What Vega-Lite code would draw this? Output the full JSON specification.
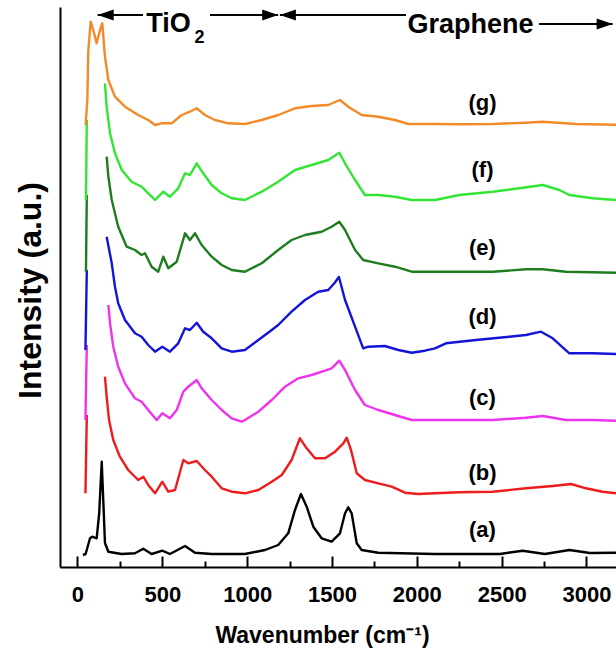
{
  "$schema": "https://vega.github.io/schema/vega-lite/v6.json",
  "width": 556,
  "height": 560,
  "autosize": "none",
  "padding": {"left": 60, "top": 7, "right": 0, "bottom": 86},
  "config": {"view": {"stroke": null}, "font": "Liberation Sans"},
  "datasets": {
    "spectra": [
      {"s":"a","g":1,"x":32,"y":12},{"s":"a","g":1,"x":48,"y":13},{"s":"a","g":1,"x":74,"y":28.7},{"s":"a","g":1,"x":87,"y":30.3},{"s":"a","g":1,"x":113,"y":28.7},{"s":"a","g":1,"x":128,"y":53.7},{"s":"a","g":1,"x":143,"y":105.3},{"s":"a","g":1,"x":152,"y":67},{"s":"a","g":1,"x":162,"y":24},{"s":"a","g":1,"x":182,"y":15.3},{"s":"a","g":1,"x":260,"y":13},{"s":"a","g":1,"x":339,"y":13.7},{"s":"a","g":1,"x":388,"y":18.3},{"s":"a","g":1,"x":437,"y":13},{"s":"a","g":1,"x":500,"y":16.3},{"s":"a","g":1,"x":545,"y":13},{"s":"a","g":1,"x":634,"y":21},{"s":"a","g":1,"x":693,"y":14.3},{"s":"a","g":1,"x":791,"y":13},{"s":"a","g":1,"x":987,"y":13},{"s":"a","g":1,"x":1105,"y":17},{"s":"a","g":1,"x":1183,"y":22},{"s":"a","g":1,"x":1242,"y":33.7},{"s":"a","g":1,"x":1282,"y":57},{"s":"a","g":1,"x":1317,"y":73},{"s":"a","g":1,"x":1351,"y":60.3},{"s":"a","g":1,"x":1390,"y":40.3},{"s":"a","g":1,"x":1439,"y":28.7},{"s":"a","g":1,"x":1498,"y":25.3},{"s":"a","g":1,"x":1547,"y":33.7},{"s":"a","g":1,"x":1577,"y":53.7},{"s":"a","g":1,"x":1596,"y":59.7},{"s":"a","g":1,"x":1616,"y":53.7},{"s":"a","g":1,"x":1646,"y":23.7},{"s":"a","g":1,"x":1675,"y":17},{"s":"a","g":1,"x":1773,"y":14.3},{"s":"a","g":1,"x":2107,"y":13},{"s":"a","g":1,"x":2490,"y":13},{"s":"a","g":1,"x":2624,"y":16.3},{"s":"a","g":1,"x":2755,"y":13},{"s":"a","g":1,"x":2899,"y":17},{"s":"a","g":1,"x":3021,"y":14},{"s":"a","g":1,"x":3174,"y":14.3},

      {"s":"b","g":1,"x":47,"y":73.7},{"s":"b","g":1,"x":55,"y":152},
      {"s":"b","g":2,"x":162,"y":190.3},{"s":"b","g":2,"x":172,"y":170.3},{"s":"b","g":2,"x":186,"y":147},{"s":"b","g":2,"x":211,"y":127},{"s":"b","g":2,"x":250,"y":110.3},{"s":"b","g":2,"x":299,"y":97},{"s":"b","g":2,"x":358,"y":87},{"s":"b","g":2,"x":388,"y":90.3},{"s":"b","g":2,"x":417,"y":82},{"s":"b","g":2,"x":457,"y":73.7},{"s":"b","g":2,"x":500,"y":85.3},{"s":"b","g":2,"x":535,"y":75.3},{"s":"b","g":2,"x":575,"y":77},{"s":"b","g":2,"x":624,"y":107},{"s":"b","g":2,"x":653,"y":103.7},{"s":"b","g":2,"x":703,"y":106},{"s":"b","g":2,"x":751,"y":97},{"s":"b","g":2,"x":791,"y":90.3},{"s":"b","g":2,"x":850,"y":78.7},{"s":"b","g":2,"x":909,"y":75.3},{"s":"b","g":2,"x":987,"y":73.7},{"s":"b","g":2,"x":1066,"y":77},{"s":"b","g":2,"x":1145,"y":85.3},{"s":"b","g":2,"x":1204,"y":92},{"s":"b","g":2,"x":1262,"y":107},{"s":"b","g":2,"x":1311,"y":128.7},{"s":"b","g":2,"x":1351,"y":118.7},{"s":"b","g":2,"x":1400,"y":108.7},{"s":"b","g":2,"x":1459,"y":108.7},{"s":"b","g":2,"x":1518,"y":115.3},{"s":"b","g":2,"x":1567,"y":123.7},{"s":"b","g":2,"x":1587,"y":129.3},{"s":"b","g":2,"x":1612,"y":117},{"s":"b","g":2,"x":1646,"y":93.7},{"s":"b","g":2,"x":1694,"y":87},{"s":"b","g":2,"x":1773,"y":83.7},{"s":"b","g":2,"x":1852,"y":80.3},{"s":"b","g":2,"x":1930,"y":74.3},{"s":"b","g":2,"x":2009,"y":73},{"s":"b","g":2,"x":2107,"y":73.7},{"s":"b","g":2,"x":2250,"y":74.7},{"s":"b","g":2,"x":2447,"y":75.3},{"s":"b","g":2,"x":2643,"y":78.7},{"s":"b","g":2,"x":2801,"y":81},{"s":"b","g":2,"x":2909,"y":83},{"s":"b","g":2,"x":2997,"y":78.7},{"s":"b","g":2,"x":3095,"y":75.3},{"s":"b","g":2,"x":3174,"y":73.7},

      {"s":"c","g":1,"x":47,"y":147},{"s":"c","g":1,"x":55,"y":222},
      {"s":"c","g":2,"x":182,"y":262},{"s":"c","g":2,"x":192,"y":243.7},{"s":"c","g":2,"x":211,"y":220.3},{"s":"c","g":2,"x":240,"y":200.3},{"s":"c","g":2,"x":280,"y":183.7},{"s":"c","g":2,"x":339,"y":168.7},{"s":"c","g":2,"x":378,"y":165.3},{"s":"c","g":2,"x":417,"y":157},{"s":"c","g":2,"x":467,"y":147},{"s":"c","g":2,"x":500,"y":153.7},{"s":"c","g":2,"x":545,"y":148.7},{"s":"c","g":2,"x":585,"y":157},{"s":"c","g":2,"x":624,"y":175.3},{"s":"c","g":2,"x":653,"y":180.3},{"s":"c","g":2,"x":703,"y":187},{"s":"c","g":2,"x":732,"y":178.7},{"s":"c","g":2,"x":791,"y":167},{"s":"c","g":2,"x":850,"y":157},{"s":"c","g":2,"x":909,"y":148.7},{"s":"c","g":2,"x":968,"y":145.3},{"s":"c","g":2,"x":987,"y":147},{"s":"c","g":2,"x":1066,"y":155.3},{"s":"c","g":2,"x":1145,"y":167},{"s":"c","g":2,"x":1223,"y":180.3},{"s":"c","g":2,"x":1301,"y":188.7},{"s":"c","g":2,"x":1380,"y":192},{"s":"c","g":2,"x":1459,"y":196.3},{"s":"c","g":2,"x":1498,"y":198.7},{"s":"c","g":2,"x":1543,"y":206.3},{"s":"c","g":2,"x":1577,"y":197},{"s":"c","g":2,"x":1636,"y":177},{"s":"c","g":2,"x":1694,"y":162},{"s":"c","g":2,"x":1773,"y":157},{"s":"c","g":2,"x":1871,"y":152},{"s":"c","g":2,"x":1970,"y":147},{"s":"c","g":2,"x":2107,"y":147},{"s":"c","g":2,"x":2250,"y":147},{"s":"c","g":2,"x":2447,"y":147},{"s":"c","g":2,"x":2643,"y":149.3},{"s":"c","g":2,"x":2742,"y":151},{"s":"c","g":2,"x":2879,"y":147},{"s":"c","g":2,"x":3036,"y":147},{"s":"c","g":2,"x":3174,"y":146.3},

      {"s":"d","g":1,"x":47,"y":217},{"s":"d","g":1,"x":55,"y":297},
      {"s":"d","g":2,"x":172,"y":330.3},{"s":"d","g":2,"x":202,"y":303.7},{"s":"d","g":2,"x":221,"y":280.3},{"s":"d","g":2,"x":240,"y":263.7},{"s":"d","g":2,"x":280,"y":247},{"s":"d","g":2,"x":339,"y":233.7},{"s":"d","g":2,"x":378,"y":230.3},{"s":"d","g":2,"x":417,"y":222},{"s":"d","g":2,"x":457,"y":215.3},{"s":"d","g":2,"x":500,"y":220.3},{"s":"d","g":2,"x":545,"y":215.3},{"s":"d","g":2,"x":594,"y":223.7},{"s":"d","g":2,"x":634,"y":238.7},{"s":"d","g":2,"x":663,"y":237},{"s":"d","g":2,"x":703,"y":244.3},{"s":"d","g":2,"x":741,"y":235.3},{"s":"d","g":2,"x":791,"y":228.7},{"s":"d","g":2,"x":850,"y":218.7},{"s":"d","g":2,"x":909,"y":215.3},{"s":"d","g":2,"x":987,"y":217},{"s":"d","g":2,"x":1066,"y":227},{"s":"d","g":2,"x":1145,"y":237},{"s":"d","g":2,"x":1183,"y":242},{"s":"d","g":2,"x":1262,"y":255.3},{"s":"d","g":2,"x":1341,"y":267},{"s":"d","g":2,"x":1419,"y":275.3},{"s":"d","g":2,"x":1478,"y":277},{"s":"d","g":2,"x":1514,"y":283.7},{"s":"d","g":2,"x":1541,"y":290},{"s":"d","g":2,"x":1577,"y":267},{"s":"d","g":2,"x":1636,"y":240.3},{"s":"d","g":2,"x":1684,"y":218.7},{"s":"d","g":2,"x":1714,"y":220.3},{"s":"d","g":2,"x":1812,"y":221},{"s":"d","g":2,"x":1891,"y":217},{"s":"d","g":2,"x":1970,"y":214.3},{"s":"d","g":2,"x":2048,"y":216.3},{"s":"d","g":2,"x":2107,"y":218.7},{"s":"d","g":2,"x":2172,"y":223.7},{"s":"d","g":2,"x":2349,"y":227},{"s":"d","g":2,"x":2545,"y":230.3},{"s":"d","g":2,"x":2643,"y":232},{"s":"d","g":2,"x":2732,"y":235.3},{"s":"d","g":2,"x":2801,"y":228.7},{"s":"d","g":2,"x":2899,"y":213.7},{"s":"d","g":2,"x":3036,"y":213.7},{"s":"d","g":2,"x":3174,"y":213},

      {"s":"e","g":1,"x":50,"y":295.3},{"s":"e","g":1,"x":55,"y":372},
      {"s":"e","g":2,"x":172,"y":410.3},{"s":"e","g":2,"x":182,"y":390.3},{"s":"e","g":2,"x":202,"y":367},{"s":"e","g":2,"x":240,"y":340.3},{"s":"e","g":2,"x":290,"y":320.3},{"s":"e","g":2,"x":339,"y":317},{"s":"e","g":2,"x":378,"y":312},{"s":"e","g":2,"x":398,"y":313.7},{"s":"e","g":2,"x":437,"y":300.3},{"s":"e","g":2,"x":476,"y":295.3},{"s":"e","g":2,"x":506,"y":310.3},{"s":"e","g":2,"x":535,"y":298.7},{"s":"e","g":2,"x":585,"y":305.3},{"s":"e","g":2,"x":634,"y":333.7},{"s":"e","g":2,"x":663,"y":327},{"s":"e","g":2,"x":693,"y":333.7},{"s":"e","g":2,"x":732,"y":322},{"s":"e","g":2,"x":791,"y":310.3},{"s":"e","g":2,"x":850,"y":302},{"s":"e","g":2,"x":909,"y":297},{"s":"e","g":2,"x":987,"y":295.3},{"s":"e","g":2,"x":1086,"y":303.7},{"s":"e","g":2,"x":1183,"y":317},{"s":"e","g":2,"x":1262,"y":327},{"s":"e","g":2,"x":1341,"y":332},{"s":"e","g":2,"x":1439,"y":335.3},{"s":"e","g":2,"x":1498,"y":340.3},{"s":"e","g":2,"x":1543,"y":345.3},{"s":"e","g":2,"x":1577,"y":337},{"s":"e","g":2,"x":1636,"y":317},{"s":"e","g":2,"x":1684,"y":307},{"s":"e","g":2,"x":1773,"y":303.7},{"s":"e","g":2,"x":1871,"y":300.3},{"s":"e","g":2,"x":1970,"y":295.3},{"s":"e","g":2,"x":2107,"y":295.3},{"s":"e","g":2,"x":2250,"y":295.3},{"s":"e","g":2,"x":2447,"y":295.3},{"s":"e","g":2,"x":2643,"y":297.7},{"s":"e","g":2,"x":2742,"y":297.7},{"s":"e","g":2,"x":2879,"y":295.3},{"s":"e","g":2,"x":3174,"y":294.3},

      {"s":"f","g":1,"x":50,"y":367},{"s":"f","g":1,"x":55,"y":447},
      {"s":"f","g":2,"x":162,"y":483.7},{"s":"f","g":2,"x":172,"y":460.3},{"s":"f","g":2,"x":192,"y":433.7},{"s":"f","g":2,"x":221,"y":413.7},{"s":"f","g":2,"x":261,"y":397},{"s":"f","g":2,"x":319,"y":385.3},{"s":"f","g":2,"x":378,"y":380.3},{"s":"f","g":2,"x":417,"y":373.7},{"s":"f","g":2,"x":457,"y":367},{"s":"f","g":2,"x":506,"y":375.3},{"s":"f","g":2,"x":545,"y":370.3},{"s":"f","g":2,"x":594,"y":378.7},{"s":"f","g":2,"x":634,"y":393.7},{"s":"f","g":2,"x":663,"y":392},{"s":"f","g":2,"x":703,"y":403.7},{"s":"f","g":2,"x":741,"y":393.7},{"s":"f","g":2,"x":791,"y":382},{"s":"f","g":2,"x":850,"y":373.7},{"s":"f","g":2,"x":909,"y":368.7},{"s":"f","g":2,"x":987,"y":367},{"s":"f","g":2,"x":1086,"y":375.3},{"s":"f","g":2,"x":1183,"y":385.3},{"s":"f","g":2,"x":1282,"y":397},{"s":"f","g":2,"x":1380,"y":402},{"s":"f","g":2,"x":1478,"y":407},{"s":"f","g":2,"x":1543,"y":414.3},{"s":"f","g":2,"x":1577,"y":403.7},{"s":"f","g":2,"x":1636,"y":387},{"s":"f","g":2,"x":1694,"y":372},{"s":"f","g":2,"x":1773,"y":372},{"s":"f","g":2,"x":1871,"y":370.3},{"s":"f","g":2,"x":1970,"y":367},{"s":"f","g":2,"x":2107,"y":367},{"s":"f","g":2,"x":2250,"y":372},{"s":"f","g":2,"x":2447,"y":375.3},{"s":"f","g":2,"x":2604,"y":378.7},{"s":"f","g":2,"x":2742,"y":382},{"s":"f","g":2,"x":2840,"y":377},{"s":"f","g":2,"x":2899,"y":372},{"s":"f","g":2,"x":3036,"y":368.7},{"s":"f","g":2,"x":3174,"y":367},

      {"s":"g","g":1,"x":48,"y":442},{"s":"g","g":1,"x":58,"y":467},{"s":"g","g":1,"x":64,"y":517},{"s":"g","g":1,"x":78,"y":545.3},{"s":"g","g":1,"x":93,"y":537},{"s":"g","g":1,"x":113,"y":523.7},{"s":"g","g":1,"x":133,"y":537},{"s":"g","g":1,"x":146,"y":543.7},{"s":"g","g":1,"x":162,"y":510.3},{"s":"g","g":1,"x":182,"y":487},{"s":"g","g":1,"x":221,"y":470.3},{"s":"g","g":1,"x":280,"y":460.3},{"s":"g","g":1,"x":358,"y":452},{"s":"g","g":1,"x":417,"y":447},{"s":"g","g":1,"x":457,"y":442},{"s":"g","g":1,"x":496,"y":443.7},{"s":"g","g":1,"x":555,"y":443.7},{"s":"g","g":1,"x":614,"y":452},{"s":"g","g":1,"x":663,"y":455.3},{"s":"g","g":1,"x":703,"y":458.7},{"s":"g","g":1,"x":751,"y":452},{"s":"g","g":1,"x":810,"y":447},{"s":"g","g":1,"x":889,"y":443.7},{"s":"g","g":1,"x":987,"y":443},{"s":"g","g":1,"x":1086,"y":447},{"s":"g","g":1,"x":1183,"y":452},{"s":"g","g":1,"x":1282,"y":458.7},{"s":"g","g":1,"x":1380,"y":461},{"s":"g","g":1,"x":1478,"y":462},{"s":"g","g":1,"x":1547,"y":467},{"s":"g","g":1,"x":1596,"y":460.3},{"s":"g","g":1,"x":1675,"y":452},{"s":"g","g":1,"x":1773,"y":450.3},{"s":"g","g":1,"x":1871,"y":447},{"s":"g","g":1,"x":1950,"y":443},{"s":"g","g":1,"x":2107,"y":443},{"s":"g","g":1,"x":2250,"y":442.7},{"s":"g","g":1,"x":2447,"y":443},{"s":"g","g":1,"x":2643,"y":444.3},{"s":"g","g":1,"x":2742,"y":445.3},{"s":"g","g":1,"x":2938,"y":443},{"s":"g","g":1,"x":3174,"y":442.3}
    ],
    "labels": [
      {"t":"(a)","x":2387,"y":37},{"t":"(b)","x":2387,"y":93.7},{"t":"(c)","x":2387,"y":168.7},{"t":"(d)","x":2387,"y":250.3},{"t":"(e)","x":2387,"y":318.7},{"t":"(f)","x":2387,"y":397},{"t":"(g)","x":2387,"y":463.7}
    ],
    "lines": [
      {"x":119,"x2":386,"y":552},{"x":781,"x2":1183,"y":552},{"x":1193,"x2":1936,"y":552},{"x":2720,"x2":3154,"y":543}
    ],
    "heads": [
      {"d":"L","x":119,"y":552},{"d":"R","x":1183,"y":552},{"d":"L","x":1193,"y":552},{"d":"R","x":3154,"y":543}
    ],
    "notes": [
      {"t":"TiO","x":405,"y":535},{"t":"Graphene","x":1945,"y":534}
    ],
    "subs": [
      {"t":"2","x":690,"y":524}
    ]
  },
  "encoding": {
    "x": {"field":"x","type":"quantitative",
      "scale":{"domain":[-103,3174],"nice":false,"zero":false},
      "axis":{"values":[0,250,500,750,1000,1250,1500,1750,2000,2250,2500,2750,3000],
        "labelExpr":"datum.value % 500 === 0 ? format(datum.value, 'd') : ''",
        "tickSize":{"condition":{"test":"datum.value % 500 === 0","value":-11},"value":-6},
        "tickWidth":2,"tickColor":"#000","domainWidth":2,"domainColor":"#000","grid":false,
        "labelFontSize":22,"labelFontWeight":"bold","labelColor":"#000","labelBaseline":"top","labelPadding":28,"labelFlush":false,"labelOverlap":false,
        "title":"Wavenumber (cm⁻¹)","titleFontSize":23,"titleFontWeight":"bold","titleColor":"#000",
        "titleX":262,"titleY":68,"titleBaseline":"middle","titleAlign":"center"}},
    "y": {"field":"y","type":"quantitative",
      "scale":{"domain":[0,560],"nice":false,"zero":false},
      "axis":{"ticks":false,"labels":false,"grid":false,"domainWidth":2,"domainColor":"#000",
        "title":"Intensity (a.u.)","titleFontSize":32,"titleFontWeight":"bold","titleColor":"#000",
        "titleX":-30,"titleY":283,"titleAngle":-90,"titleBaseline":"middle","titleAlign":"center"}}
  },
  "layer": [
    {"data":{"name":"spectra"},
     "mark":{"type":"line","strokeWidth":2.4,"strokeJoin":"round"},
     "encoding":{
       "color":{"field":"s","type":"nominal","scale":{"domain":["a","b","c","d","e","f","g"],"range":["#000000","#ee1c1c","#ee33ee","#1414d8","#1f7d1f","#33e633","#f28a2a"]},"legend":null},
       "detail":{"field":"g","type":"nominal"}
     }},
    {"data":{"name":"labels"},
     "mark":{"type":"text","fontSize":22,"fontWeight":"bold","align":"center","baseline":"middle","color":"#000"},
     "encoding":{"text":{"field":"t"}}},
    {"data":{"name":"lines"},
     "mark":{"type":"rule","strokeWidth":2,"color":"#000"},
     "encoding":{"x2":{"field":"x2"}}},
    {"data":{"name":"heads"},
     "mark":{"type":"point","filled":true,"opacity":1,"color":"#000","size":256},
     "encoding":{"shape":{"field":"d","type":"nominal","scale":{"domain":["L","R"],"range":["M0,0L2,-0.7L2,0.7Z","M0,0L-2,-0.7L-2,0.7Z"]},"legend":null}}},
    {"data":{"name":"notes"},
     "mark":{"type":"text","fontSize":27,"fontWeight":"bold","align":"left","baseline":"alphabetic","color":"#000"},
     "encoding":{"text":{"field":"t"}}},
    {"data":{"name":"subs"},
     "mark":{"type":"text","fontSize":18,"fontWeight":"bold","align":"left","baseline":"alphabetic","color":"#000"},
     "encoding":{"text":{"field":"t"}}},
    {"data":{"values":[{}]},
     "mark":{"type":"rule","strokeWidth":2,"color":"#000"},
     "encoding":{"x":{"datum":-103},"x2":{"datum":3174},"y":{"datum":560}}}
  ]
}
